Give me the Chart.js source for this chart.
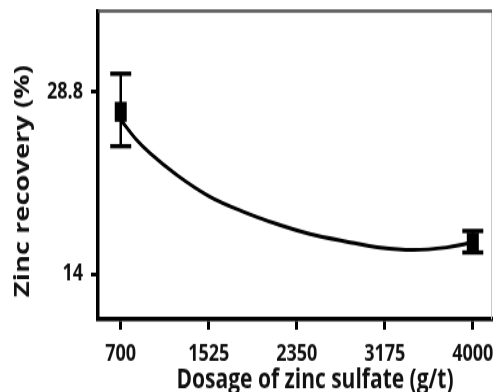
<!DOCTYPE html>
<html>
<head>
<meta charset="utf-8">
<script src="https://cdn.jsdelivr.net/npm/chart.js@4.4.0/dist/chart.umd.min.js"></script>
<style>
  html, body { margin: 0; padding: 0; background: #fff; }
  /* the figure is drawn at 302px tall and stretched to 392px, like the original */
  #chart { display: block; width: 494px !important; height: 392px !important; }
</style>
</head>
<body>
<canvas id="chart" width="494" height="302"></canvas>
<script>
// fitted curve
const dosage   = [700, 740, 850, 975, 1225, 1537, 1849, 2162, 2474, 2819, 3131, 3443, 3756, 3881, 4000];
const recovery = [26.6, 26.1, 24.9, 23.83, 22.07, 20.29, 19.07, 18.07, 17.25, 16.63, 16.14, 15.95, 16.16, 16.35, 16.6];

// measured points with error bars
const measuredDosage = [700, 4000];
const measuredMean   = [27.2, 16.55];
const measuredHigh   = [30.3, 17.5];
const measuredLow    = [24.4, 15.75];

const xTicks = [700, 1525, 2350, 3175, 4000];
const yTicks = [14, 28.8];
const xTitle = 'Dosage of zinc sulfate (g/t)';
const yTitle = 'Zinc recovery (%)';

const frame = {
  id: 'frame',
  beforeDatasetsDraw(chart) {
    const { ctx, chartArea: a } = chart;
    ctx.save();
    ctx.strokeStyle = '#c8c8c8';
    ctx.lineWidth = 1;
    ctx.beginPath();
    ctx.moveTo(a.right - 0.5, a.top);
    ctx.lineTo(a.right - 0.5, a.bottom);
    ctx.stroke();
    ctx.strokeStyle = '#555';
    ctx.lineWidth = 2.5;
    ctx.beginPath();
    ctx.moveTo(a.left, a.top);
    ctx.lineTo(a.right, a.top);
    ctx.stroke();
    ctx.restore();
  }
};

const errorBars = {
  id: 'errorBars',
  afterDatasetsDraw(chart) {
    const { ctx, scales: { x, y } } = chart;
    ctx.save();
    ctx.fillStyle = '#000';
    ctx.strokeStyle = '#000';
    measuredDosage.forEach((d, i) => {
      const px = x.getPixelForValue(d);
      const top = y.getPixelForValue(measuredHigh[i]);
      const bot = y.getPixelForValue(measuredLow[i]);
      const mid = y.getPixelForValue(measuredMean[i]);
      ctx.lineWidth = 2.5;
      ctx.beginPath();
      ctx.moveTo(px, top);
      ctx.lineTo(px, bot);
      ctx.stroke();
      ctx.fillRect(px - 10.5, top - 1.7, 21, 3.4);
      ctx.fillRect(px - 10.5, bot - 1.7, 21, 3.4);
      ctx.fillRect(px - 6, mid - 7.7, 12, 15.4);
    });
    ctx.restore();
  }
};

const axisTitles = {
  id: 'axisTitles',
  afterDraw(chart) {
    const { ctx } = chart;
    ctx.save();
    ctx.fillStyle = '#111';
    ctx.font = 'bold 21px "Open Sans"';
    ctx.textAlign = 'center';
    ctx.textBaseline = 'alphabetic';
    ctx.fillText(xTitle, 315, 299);
    ctx.translate(28.5, 139.5);
    ctx.rotate(-Math.PI / 2);
    ctx.fillText(yTitle, 0, 0);
    ctx.restore();
  }
};

const tickFont = { family: 'Open Sans', size: 18, weight: 'bold' };

new Chart(document.getElementById('chart'), {
  type: 'line',
  data: {
    datasets: [{
      data: dosage.map((d, i) => ({ x: d, y: recovery[i] })),
      borderColor: '#000',
      borderWidth: 3,
      pointRadius: 0,
      cubicInterpolationMode: 'monotone',
      fill: false
    }]
  },
  options: {
    responsive: false,
    animation: false,
    layout: { padding: { left: 0, right: 2, top: 8.5, bottom: 0 } },
    plugins: { legend: { display: false }, tooltip: { enabled: false } },
    scales: {
      x: {
        type: 'linear', min: 487, max: 4180,
        afterBuildTicks: s => { s.ticks = xTicks.map(v => ({ value: v })); },
        afterFit: s => { s.height = 56; s.paddingLeft = 0; s.paddingRight = 0; },
        grid: { drawOnChartArea: false, drawTicks: true, tickLength: 8, tickWidth: 3, tickColor: '#000' },
        border: { display: true, color: '#000', width: 3.5 },
        ticks: { color: '#111', font: tickFont, padding: 8, maxRotation: 0, autoSkip: false, callback: v => String(v) }
      },
      y: {
        min: 10.31, max: 35.4,
        afterBuildTicks: s => { s.ticks = yTicks.map(v => ({ value: v })); },
        afterFit: s => { s.width = 98; s.paddingTop = 0; s.paddingBottom = 0; },
        grid: { drawOnChartArea: false, drawTicks: true, tickLength: 7, tickWidth: 3, tickColor: '#000' },
        border: { display: true, color: '#000', width: 3.5 },
        ticks: { color: '#111', font: tickFont, padding: 8, autoSkip: false, callback: v => String(v) }
      }
    }
  },
  plugins: [frame, errorBars, axisTitles]
});
</script>
</body>
</html>
